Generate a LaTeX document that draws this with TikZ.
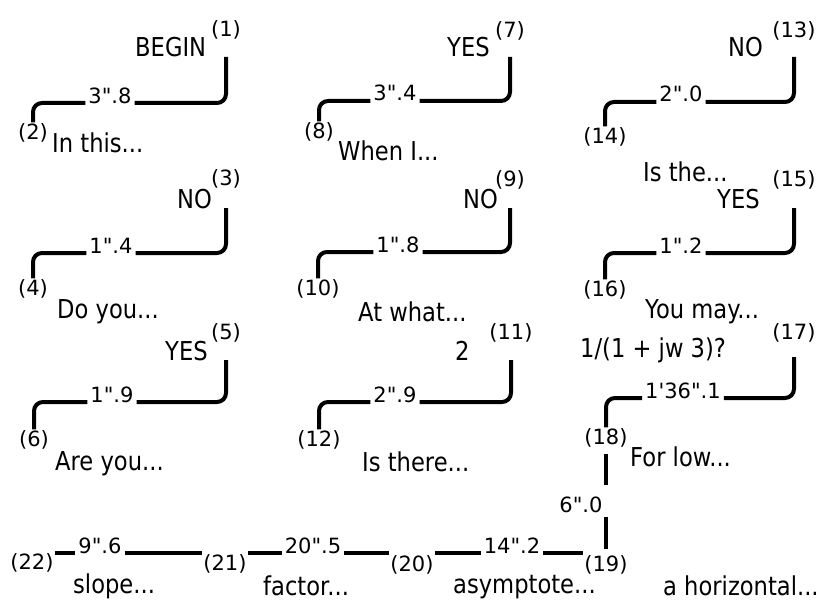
\documentclass[tikz,border=0pt]{standalone}
\usepackage{fontspec}
\newfontfamily\txtfont[FakeStretch=0.87]{DejaVu Sans}
\newfontfamily\numfont{DejaVu Sans}
\begin{document}
\begin{tikzpicture}[x=1pt,y=-1pt,
  txt/.style={font=\txtfont\fontsize{26}{30}\selectfont, inner sep=0pt, anchor=base west},
  num/.style={font=\numfont\fontsize{21}{25}\selectfont, inner sep=1pt},
  elab/.style={font=\numfont\fontsize{21}{25}\selectfont, inner xsep=3pt, inner ysep=2pt, anchor=base},
  conn/.style={line width=4pt, rounded corners=9pt}]
\useasboundingbox[fill=white] (0,0) rectangle (820,602);
% ---- column 1
\node[txt] (t1) at (135,57) {BEGIN};
\node[num] (n1) at (226,30) {(1)};
\node[elab] (e1) at (110,103) {3".8};
\node[num] (n2) at (33,133) {(2)};
\node[txt] (t2) at (52,153) {In this...};
\node[txt] (t3) at (177,208) {NO};
\node[num] (n3) at (226,179) {(3)};
\node[elab] (e3) at (111,253) {1".4};
\node[num] (n4) at (33,289) {(4)};
\node[txt] (t4) at (57,318) {Do you...};
\node[txt] (t5) at (165,360) {YES};
\node[num] (n5) at (226,333) {(5)};
\node[elab] (e5) at (112,402) {1".9};
\node[num] (n6) at (34,440) {(6)};
\node[txt] (t6) at (55,470) {Are you...};
% ---- column 2
\node[txt] (t7) at (447,57) {YES};
\node[num] (n7) at (510,31) {(7)};
\node[elab] (e7) at (395,101) {3".4};
\node[num] (n8) at (319,132) {(8)};
\node[txt] (t8) at (338,160) {When I...};
\node[txt] (t9) at (463,208) {NO};
\node[num] (n9) at (510,180) {(9)};
\node[elab] (e9) at (398,252) {1".8};
\node[num] (n10) at (318,289) {(10)};
\node[txt] (t10) at (358,321) {At what...};
\node[txt] (t11) at (455,360) {2};
\node[num] (n11) at (511,333) {(11)};
\node[elab] (e11) at (395,402) {2".9};
\node[num] (n12) at (319,440) {(12)};
\node[txt] (t12) at (362,471) {Is there...};
% ---- column 3
\node[txt] (t13) at (728,57) {NO};
\node[num] (n13) at (794,31) {(13)};
\node[elab] (e13) at (681,102) {2".0};
\node[num] (n14) at (605,137) {(14)};
\node[txt] (t14) at (643,181) {Is the...};
\node[txt] (t15) at (717,208) {YES};
\node[num] (n15) at (794,180) {(15)};
\node[elab] (e15) at (681,253) {1".2};
\node[num] (n16) at (605,290) {(16)};
\node[txt] (t16) at (645,318) {You may...};
\node[txt] (t17) at (580,357) {1/(1 + jw 3)?};
\node[num] (n17) at (794,333) {(17)};
\node[elab] (e17) at (683,398) {1'36".1};
\node[num] (n18) at (606,438) {(18)};
\node[txt] (t18) at (630,466) {For low...};
\node[elab, inner ysep=4pt] (e18) at (581,512) {6".0};
% ---- bottom row
\node[num] (n19) at (606,565) {(19)};
\node[txt] (t19) at (663,595) {a horizontal...};
\node[elab] (e19) at (512,553) {14".2};
\node[num] (n20) at (412,565) {(20)};
\node[txt] (t20) at (453,593) {asymptote...};
\node[elab] (e20) at (313,553) {20".5};
\node[num] (n21) at (225,564) {(21)};
\node[txt] (t21) at (263,595) {factor...};
\node[elab] (e21) at (100,553) {9".6};
\node[num] (n22) at (32,563) {(22)};
\node[txt] (t22) at (73,593) {slope...};
% ---- connectors
\foreach \a/\e/\b/\t in {n1/e1/n2/t1, n3/e3/n4/t3, n5/e5/n6/t5,
                         n7/e7/n8/t7, n9/e9/n10/t9, n11/e11/n12/t11,
                         n13/e13/n14/t13, n15/e15/n16/t15, n17/e17/n18/t17}{
  \draw[conn] (\a.south |- \t.base) |- (\e.base east);
  \draw[conn] (\e.base west) -| (\b.north);
}
\draw[conn, shorten <=5pt, shorten >=7pt] (n18.south) -- (n18.south |- e18.north);
\draw[conn, shorten >=5pt] (n18.south |- e18.south) -- (n19.north);
\draw[conn] (n20.east |- e19.base) -- (e19.base west);
\draw[conn] (e19.base east) -- (n19.west |- e19.base);
\draw[conn] (n21.east |- e20.base) -- (e20.base west);
\draw[conn] (e20.base east) -- (n20.west |- e20.base);
\draw[conn] (n22.east |- e21.base) -- (e21.base west);
\draw[conn] (e21.base east) -- (n21.west |- e21.base);
\end{tikzpicture}
\end{document}
